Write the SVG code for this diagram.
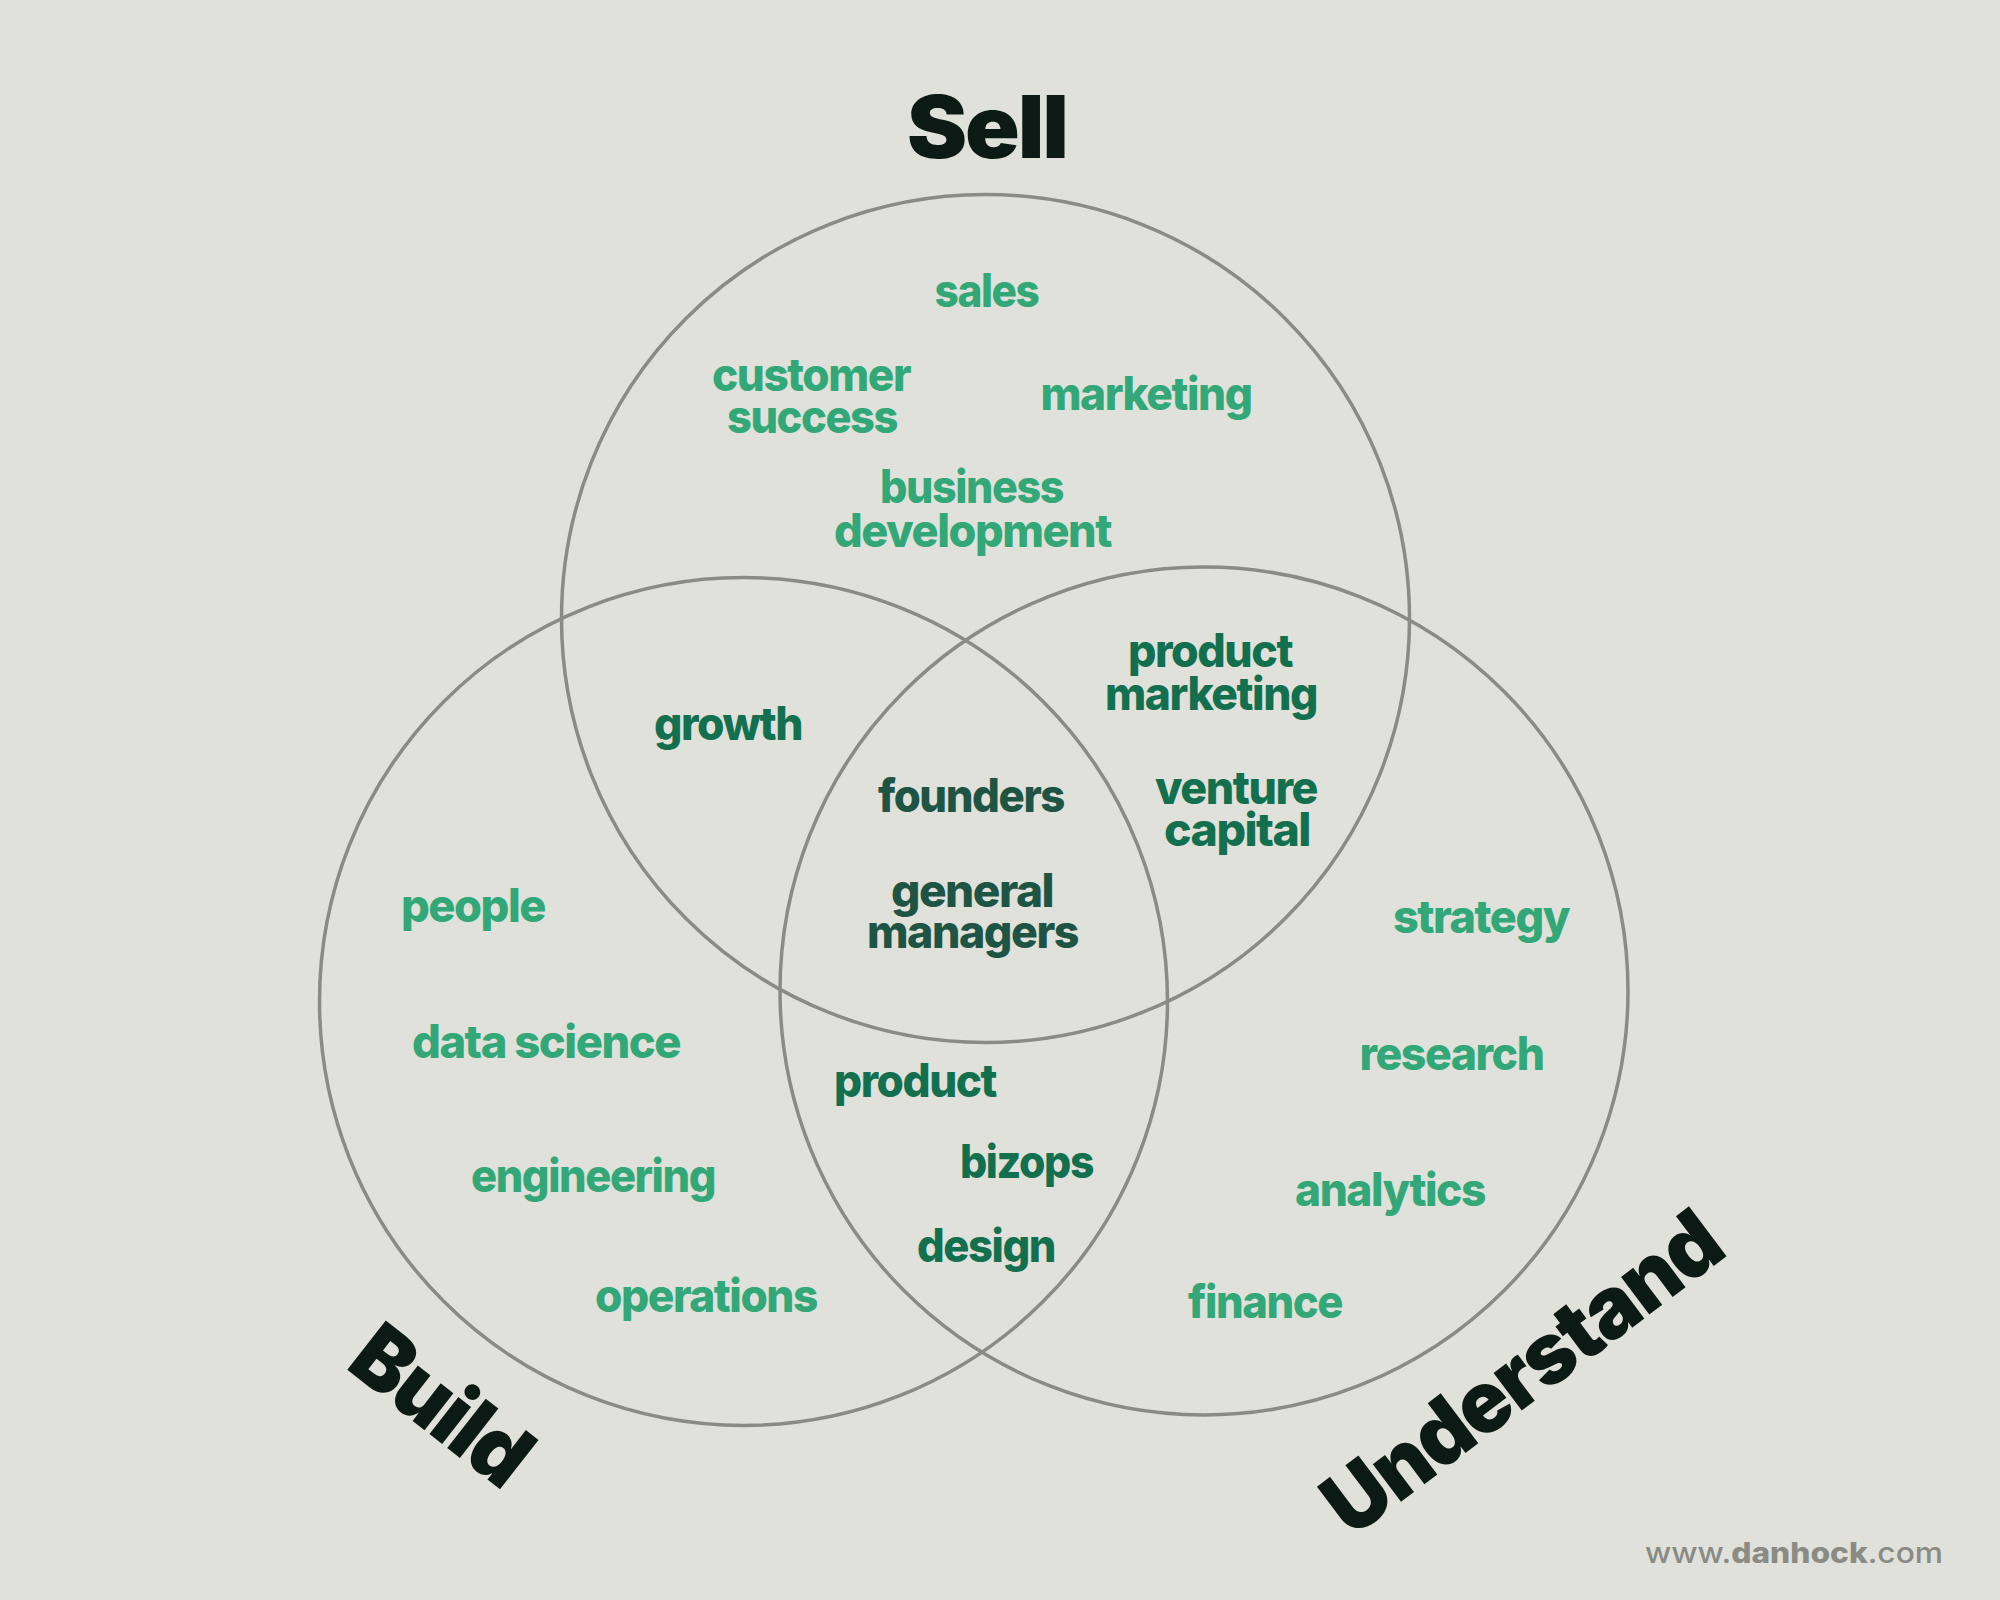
<svg xmlns="http://www.w3.org/2000/svg" width="2000" height="1600" viewBox="0 0 2000 1600">
<style>
.bg{fill:#e0e1da}
.ring{fill:none;stroke:#8a8b84;stroke-width:3.5}
text{font-family:Inter,"Noto Sans","DejaVu Sans",sans-serif;text-anchor:middle;lengthAdjust:spacingAndGlyphs}
.lbl{font-size:46px;font-weight:800;letter-spacing:-1.5px}
.l1{fill:#32a878}
.l2{fill:#13704f}
.l3{fill:#1d5443}
.title{font-size:86px;font-weight:900;fill:#0b1a14;letter-spacing:-2px}
.url{font-size:29px;fill:#8a8b84;text-anchor:start}
</style>
<rect class="bg" x="0" y="0" width="2000" height="1600"/>
<g id="circles">
  <circle id="circle-sell" class="ring" cx="985.5" cy="618.5" r="424"/>
  <circle id="circle-build" class="ring" cx="743.5" cy="1001.5" r="424"/>
  <circle id="circle-understand" class="ring" cx="1204" cy="991" r="424"/>
</g>
<g id="connectors"/>
<g id="titles">
  <text id="title-sell" class="title" x="987" y="158" textLength="160" lengthAdjust="spacingAndGlyphs">Sell</text>
  <text id="title-build" class="title" x="0" y="0" textLength="200" lengthAdjust="spacingAndGlyphs" transform="translate(423 1429) rotate(38)">Build</text>
  <text id="title-understand" class="title" x="0" y="0" textLength="472" lengthAdjust="spacingAndGlyphs" transform="translate(1540 1397) rotate(-37)">Understand</text>
</g>
<g id="node-sales"><text class="lbl l1" x="986.5" y="307" textLength="104" lengthAdjust="spacingAndGlyphs">sales</text></g>
<g id="node-customer-success"><text class="lbl l1" x="811" y="391" textLength="198" lengthAdjust="spacingAndGlyphs">customer</text><text class="lbl l1" x="812" y="433" textLength="170" lengthAdjust="spacingAndGlyphs">success</text></g>
<g id="node-marketing"><text class="lbl l1" x="1146" y="410" textLength="211" lengthAdjust="spacingAndGlyphs">marketing</text></g>
<g id="node-business-development"><text class="lbl l1" x="971.5" y="503" textLength="183" lengthAdjust="spacingAndGlyphs">business</text><text class="lbl l1" x="972.5" y="547" textLength="277" lengthAdjust="spacingAndGlyphs">development</text></g>
<g id="node-growth"><text class="lbl l2" x="728" y="740" textLength="148" lengthAdjust="spacingAndGlyphs">growth</text></g>
<g id="node-product-marketing"><text class="lbl l2" x="1210" y="667" textLength="164" lengthAdjust="spacingAndGlyphs">product</text><text class="lbl l2" x="1211" y="710" textLength="212" lengthAdjust="spacingAndGlyphs">marketing</text></g>
<g id="node-venture-capital"><text class="lbl l2" x="1236" y="804" textLength="162" lengthAdjust="spacingAndGlyphs">venture</text><text class="lbl l2" x="1237" y="846" textLength="146" lengthAdjust="spacingAndGlyphs">capital</text></g>
<g id="node-founders"><text class="lbl l3" x="971" y="812" textLength="186" lengthAdjust="spacingAndGlyphs">founders</text></g>
<g id="node-general-managers"><text class="lbl l3" x="972" y="907" textLength="162" lengthAdjust="spacingAndGlyphs">general</text><text class="lbl l3" x="972.5" y="948" textLength="211" lengthAdjust="spacingAndGlyphs">managers</text></g>
<g id="node-people"><text class="lbl l1" x="473" y="922" textLength="144" lengthAdjust="spacingAndGlyphs">people</text></g>
<g id="node-data-science"><text class="lbl l1" x="546" y="1058" textLength="268" lengthAdjust="spacingAndGlyphs">data science</text></g>
<g id="node-engineering"><text class="lbl l1" x="593" y="1192" textLength="244" lengthAdjust="spacingAndGlyphs">engineering</text></g>
<g id="node-operations"><text class="lbl l1" x="706" y="1312" textLength="222" lengthAdjust="spacingAndGlyphs">operations</text></g>
<g id="node-product"><text class="lbl l2" x="915" y="1097" textLength="162" lengthAdjust="spacingAndGlyphs">product</text></g>
<g id="node-bizops"><text class="lbl l2" x="1026.5" y="1178" textLength="133" lengthAdjust="spacingAndGlyphs">bizops</text></g>
<g id="node-design"><text class="lbl l2" x="986" y="1262" textLength="138" lengthAdjust="spacingAndGlyphs">design</text></g>
<g id="node-strategy"><text class="lbl l1" x="1481" y="933" textLength="176" lengthAdjust="spacingAndGlyphs">strategy</text></g>
<g id="node-research"><text class="lbl l1" x="1451.5" y="1070" textLength="184" lengthAdjust="spacingAndGlyphs">research</text></g>
<g id="node-analytics"><text class="lbl l1" x="1390" y="1206" textLength="190" lengthAdjust="spacingAndGlyphs">analytics</text></g>
<g id="node-finance"><text class="lbl l1" x="1265" y="1318" textLength="154" lengthAdjust="spacingAndGlyphs">finance</text></g>
<g id="credit"><text class="url" x="1645" y="1563" textLength="298" lengthAdjust="spacingAndGlyphs"><tspan font-weight="500">www.</tspan><tspan font-weight="800">danhock</tspan><tspan font-weight="500">.com</tspan></text></g>
</svg>
